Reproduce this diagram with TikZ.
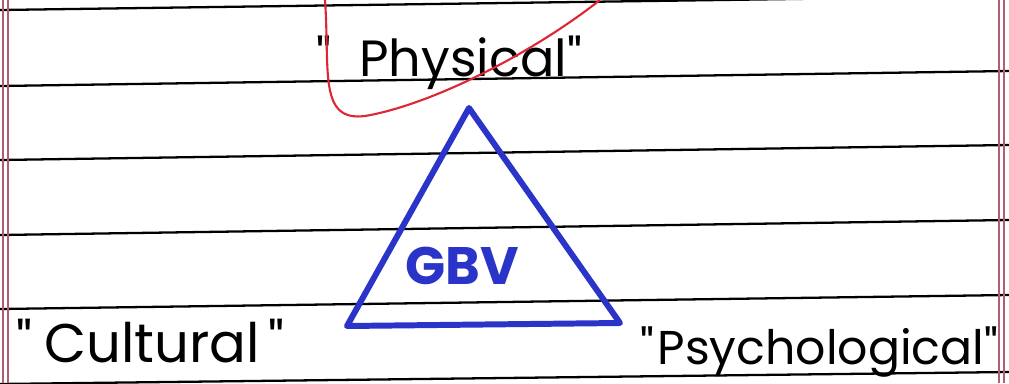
\documentclass[tikz,border=0pt]{standalone}
\usepackage{fontspec}
\setmainfont{Poppins}[Ligatures=TeXOff]
\usepackage{tikz}
\usetikzlibrary{calc}
\definecolor{penblue}{RGB}{42,52,200}
\definecolor{penred}{RGB}{222,38,52}
\definecolor{marginred}{RGB}{175,95,115}
\tikzstyle{word}=[font=\fontsize{27}{27}\selectfont, inner sep=0pt, anchor=base west]
\tikzstyle{gbv}=[font=\bfseries\fontsize{30}{30}\selectfont, text=penblue, inner sep=0pt]
\tikzstyle{rule}=[line width=1.3pt, black]
\tikzstyle{margin}=[line width=0.6pt, marginred]
\tikzstyle{tri}=[draw=penblue, line width=3.4pt, line join=round]

\begin{document}
\begin{tikzpicture}[x=0.02cm,y=-0.02cm]
\useasboundingbox (0,0) rectangle (1009,383);
\fill[white] (0,0) rectangle (1009,383);

% lines of the paper
\draw[rule] (0,10) -- (1009,-4);
\draw[rule] (0,86) -- (1009,71);
\draw[rule] (0,160) -- (1009,145);
\draw[rule] (0,235) -- (1009,220);
\draw[rule] (0,309) -- (1009,295);
\draw[rule] (0,384) -- (1009,372);
\draw[margin] (3,0) -- (3,383);
\draw[margin] (8,0) -- (8,383);
\draw[margin] (999,0) -- (999,383);
\draw[margin] (1004,0) -- (1004,383);

% the triangle
\coordinate (apex) at (469,108);
\coordinate (bl) at (347,326);
\coordinate (br) at (620,323);
\draw[tri] (apex) -- (bl) -- (br) -- cycle;
\node[gbv] (gbv) at (462,266) {GBV};

% the three words
\node[word, font=\fontsize{29}{29}\selectfont] (phys) at (316,76) {"\hspace{16pt}Physical"};
\node[word, font=\fontsize{31}{31}\selectfont] (cult) at (16,362) {"\hspace{7pt}Cultural\hspace{5pt}"};
\node[word] (psych) at (640,364) {"\hspace{2pt}Psychological"};

% red tick over the top word
\draw[penred, line width=1.2pt] (325,0) .. controls (330,70) and (318,122) .. (365,116)
  .. controls (430,105) and (530,55) .. (600,0);
\end{tikzpicture}
\end{document}
